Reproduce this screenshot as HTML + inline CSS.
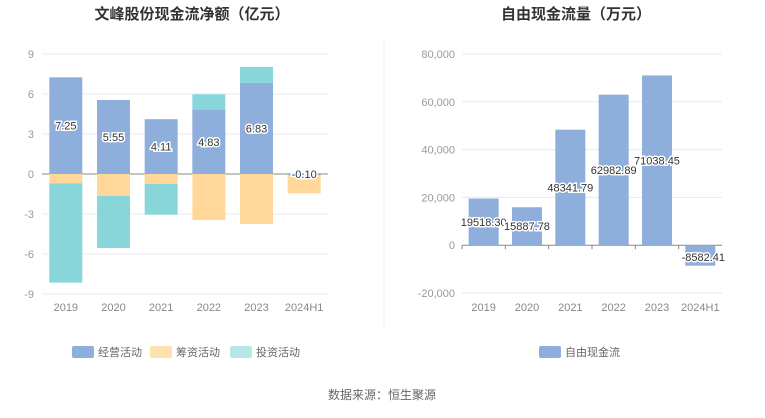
<!DOCTYPE html>
<html><head><meta charset="utf-8"><style>
body{margin:0;background:#fff;width:765px;height:413px;overflow:hidden;font-family:"Liberation Sans","Noto Sans CJK SC",sans-serif}
svg text{font-family:"Liberation Sans","Noto Sans CJK SC",sans-serif}
</style></head><body>
<svg id="c" width="765" height="413">
<line x1="384" y1="40" x2="384" y2="330" stroke="#eef0f4"/>
<text x="192" y="19" text-anchor="middle" font-size="15" font-weight="bold" fill="#333">文峰股份现金流净额（亿元）</text>
<text x="576" y="19" text-anchor="middle" font-size="15" font-weight="bold" fill="#333">自由现金流量（万元）</text>
<g id="L"></g><g id="R"></g>
<g>
<rect x="72" y="346" width="22" height="12" rx="2" fill="#8eaedb"/>
<text x="98" y="356" font-size="11" fill="#666">经营活动</text>
<rect x="150" y="346" width="22" height="12" rx="2" fill="#ffe1b0"/>
<text x="176" y="356" font-size="11" fill="#666">筹资活动</text>
<rect x="230" y="346" width="22" height="12" rx="2" fill="#b6e6e8"/>
<text x="256" y="356" font-size="11" fill="#666">投资活动</text>
</g>
<g>
<rect x="539" y="346" width="22" height="12" rx="2" fill="#8eaedb"/>
<text x="565" y="356" font-size="11" fill="#666">自由现金流</text>
</g>
<text x="382" y="399" text-anchor="middle" font-size="12" fill="#666">数据来源：恒生聚源</text>
</svg>
<script>
const categories=["2019","2020","2021","2022","2023","2024H1"];
const operating=[7.25,5.55,4.11,4.83,6.83,-0.10];
const financing=[-0.70,-1.65,-0.75,-3.45,-3.75,-1.35];
const investing=[-7.45,-3.90,-2.30,1.15,1.20,0.08];
const leftTicks=[9,6,3,0,-3,-6,-9];
const fcf=[19518.30,15887.78,48341.79,62982.89,71038.45,-8582.41];
const fcfLabels=["19518.30","15887.78","48341.79","62982.89","71038.45","-8582.41"];
const rightTicks=[80000,60000,40000,20000,0,-20000];
const NS="http://www.w3.org/2000/svg";
function mk(p,t,a){const e=document.createElementNS(NS,t);for(const k in a)e.setAttribute(k,a[k]);p.appendChild(e);return e;}
// left
const L=document.getElementById('L');
const lx0=42,lx1=328,lw=(lx1-lx0)/categories.length;
const ly=v=>174-v*(240/18);
leftTicks.forEach(t=>{
 const g=mk(L,'line',{x1:lx0,x2:lx1,y1:ly(t),y2:ly(t),stroke:t===0?'#888':'#e6eaf2'});
 
 
 const tx=mk(L,'text',{x:34,y:ly(t)+4,'text-anchor':'end','font-size':11,fill:'#999'});tx.textContent=t;
 
 
});
const series=[[operating,'#8eaedb','operating'],[financing,'#ffd899','financing'],[investing,'#88d6d9','investing']];
categories.forEach((c,i)=>{
 const cx=lx0+lw*(i+0.5);let pos=0,neg=0;
 series.forEach(([arr,col,nm])=>{
  const v=arr[i];let a,b;
  if(v>=0){a=pos;b=pos+v;pos=b;}else{a=neg;b=neg+v;neg=b;}
  const r=mk(L,'rect',{x:cx-16.5,width:33,y:Math.min(ly(a),ly(b)),height:Math.abs(ly(a)-ly(b)),fill:col});
  
  
 });
 const tx=mk(L,'text',{x:cx,y:300+11,'text-anchor':'middle','font-size':11,fill:'#888'});tx.textContent=c;
 
 
 const v=operating[i];
 const lb=mk(L,'text',{x:cx,y:(v>0?ly(v/2):ly(0))+4,'text-anchor':'middle','font-size':11,fill:'#333',stroke:'#fff','stroke-width':3,'paint-order':'stroke'});
 lb.textContent=v.toFixed(2);
 
 
});
// right
const R=document.getElementById('R');
const rx0=462,rx1=722,rw=(rx1-rx0)/categories.length;
const ry=v=>54+(80000-v)*(239/100000);
rightTicks.forEach(t=>{
 const g=mk(R,'line',{x1:rx0,x2:rx1,y1:ry(t),y2:ry(t),stroke:t===0?'#888':'#e6eaf2'});
 
 
 const tx=mk(R,'text',{x:455,y:ry(t)+4,'text-anchor':'end','font-size':11,fill:'#999'});tx.textContent=t.toLocaleString('en-US');
 
 
});
categories.forEach((c,i)=>{
 const cx=rx0+rw*(i+0.5),v=fcf[i];
 const r=mk(R,'rect',{x:cx-15,width:30,y:Math.min(ry(0),ry(v)),height:Math.abs(ry(0)-ry(v)),fill:'#8eaedb'});
 
 
 const tk=mk(R,'line',{x1:cx-rw/2,x2:cx-rw/2,y1:ry(0),y2:ry(0)+4,stroke:'#888'});
 
 
 const tx=mk(R,'text',{x:cx,y:311,'text-anchor':'middle','font-size':11,fill:'#888'});tx.textContent=c;
 
 
 const lb=mk(R,'text',{x:cx+(i===5?3:0),y:(v>0?ry(v/2):ry(0)+12)+4,'text-anchor':'middle','font-size':11,fill:'#333',stroke:'#fff','stroke-width':3,'paint-order':'stroke'});
 lb.textContent=fcfLabels[i];
 
 
});
</script>
</body></html>
